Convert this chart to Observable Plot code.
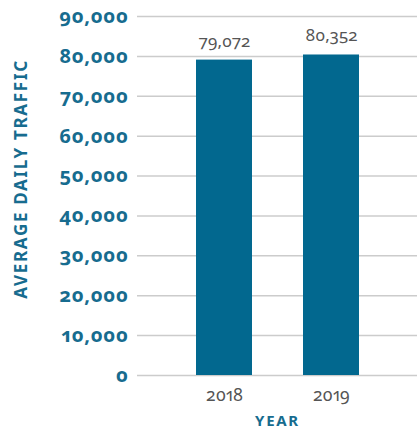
<!DOCTYPE html>
<html>
<head>
<meta charset="utf-8">
<script src="https://cdn.jsdelivr.net/npm/d3@7"></script>
<script src="https://cdn.jsdelivr.net/npm/@observablehq/plot@0.6"></script>
<style>
  html, body { margin: 0; padding: 0; background: #fff; }
  #chart svg { font-family: "Noto Sans", "Open Sans", sans-serif; }
</style>
</head>
<body>
<div id="chart"></div>
<script>
const years = ["2018", "2019"];
const traffic = [79072, 80352];
const yTicks = [0, 10000, 20000, 30000, 40000, 50000, 60000, 70000, 80000, 90000];
const yLabel = "AVERAGE DAILY TRAFFIC";
const xLabel = "YEAR";

const data = years.map((y, i) => ({year: y, value: traffic[i]}));
const teal = "#176c8f";
const barColor = "#02688f";
const fmt = d3.format(",");

const chart = Plot.plot({
  width: 417,
  height: 434,
  marginTop: 16,
  marginBottom: 59,
  marginLeft: 137,
  marginRight: 0,
  x: {domain: years, padding: 0.48, paddingOuter: 0.54, label: null},
  y: {domain: [0, 90000], label: null},
  marks: [
    Plot.ruleY(yTicks, {stroke: "#cccccc", strokeWidth: 1.5}),
    Plot.barY(data, {x: "year", y: "value", fill: barColor}),
    Plot.text(data, {x: "year", y: "value", text: d => fmt(d.value), dy: -19, fill: "#555", fontSize: 17}),
    Plot.axisY({ticks: yTicks, tickSize: 0, tickPadding: 9, tickFormat: fmt, fontSize: 20, fontWeight: "bold", fill: teal, label: null}),
    Plot.axisX({tickSize: 0, tickPadding: 13, fontSize: 17.5, fill: "#555", label: null}),
    Plot.text([yLabel], {frameAnchor: "left", textAnchor: "middle", dx: -116, dy: -17, rotate: -90, text: d => d, fontSize: 17, fontWeight: "bold", fill: teal}),
    Plot.text([xLabel], {frameAnchor: "bottom", dy: 50, text: d => d, fontSize: 15, fontWeight: "bold", fill: teal})
  ]
});
d3.select(chart).selectAll("g").each(function() {
  if (this.getAttribute("font-variant")) this.setAttribute("font-variant", "normal");
});
d3.select(chart).selectAll("text").style("font-variant-numeric", "oldstyle-nums proportional-nums");
d3.select(chart).selectAll("[aria-label='y-axis tick label'] text").style("letter-spacing", "0.5px");
d3.select(chart).selectAll("text").filter(function() { return this.textContent === yLabel || this.textContent === xLabel; })
  .style("letter-spacing", "1.7px");
document.getElementById("chart").appendChild(chart);
</script>
</body>
</html>
